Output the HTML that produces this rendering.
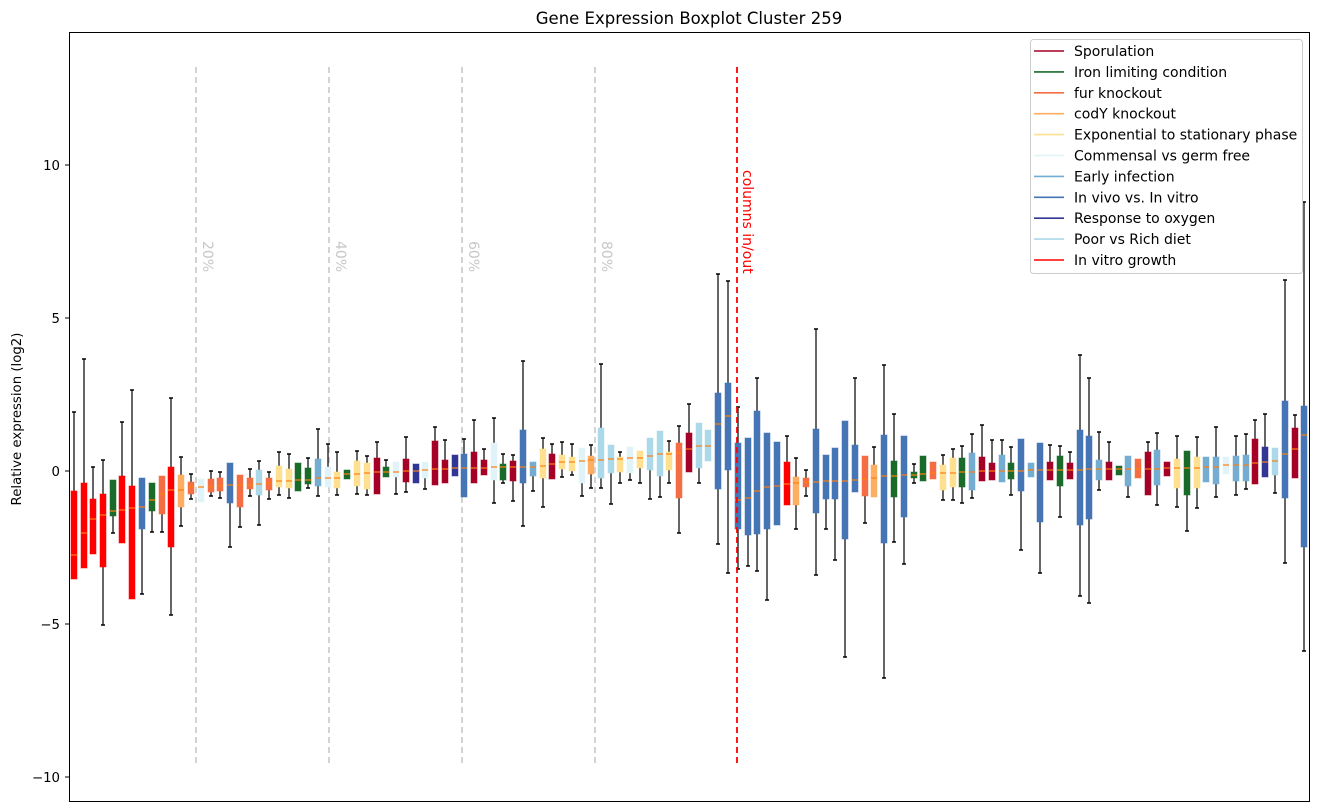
<!DOCTYPE html>
<html><head><meta charset="utf-8"><style>
html,body{margin:0;padding:0;background:#fff;}
svg{display:block;font-family:"DejaVu Sans","Liberation Sans",sans-serif;}
</style></head><body>
<svg id="s" width="1318" height="812" viewBox="0 0 1318 812" xmlns="http://www.w3.org/2000/svg">
<rect width="1318" height="812" fill="#fff"/>
<text x="689" y="24" font-size="16.5" text-anchor="middle" fill="#000">Gene Expression Boxplot Cluster 259</text>
<text transform="translate(21,419) rotate(-90)" font-size="13.3" text-anchor="middle" fill="#000">Relative expression (log2)</text>
<g font-size="13.3" text-anchor="end" fill="#000">
<text x="60" y="170">10</text>
<text x="60" y="323">5</text>
<text x="60" y="476">0</text>
<text x="60" y="629">−5</text>
<text x="60" y="782">−10</text>
</g>
<g stroke="#000" stroke-width="1">
<line x1="65" y1="165" x2="69" y2="165"/>
<line x1="65" y1="318" x2="69" y2="318"/>
<line x1="65" y1="471" x2="69" y2="471"/>
<line x1="65" y1="624" x2="69" y2="624"/>
<line x1="65" y1="777" x2="69" y2="777"/>
</g>
<g stroke="#c8c8c8" stroke-width="1.6" stroke-dasharray="6,4">
<line x1="196" y1="67" x2="196" y2="767"/>
<line x1="329" y1="67" x2="329" y2="767"/>
<line x1="462" y1="67" x2="462" y2="767"/>
<line x1="595" y1="67" x2="595" y2="767"/>
</g>
<g font-size="14" fill="#c8c8c8">
<text transform="translate(203,241) rotate(90)">20%</text>
<text transform="translate(336,241) rotate(90)">40%</text>
<text transform="translate(469,241) rotate(90)">60%</text>
<text transform="translate(602,241) rotate(90)">80%</text>
</g>
<g id="boxes"></g>
<line x1="737" y1="67" x2="737" y2="767" stroke="#ff0000" stroke-width="1.8" stroke-dasharray="6,4"/>
<text transform="translate(743,170) rotate(90)" font-size="14" fill="#ff0000">columns in/out</text>
<rect x="69.5" y="32.5" width="1240" height="769" fill="none" stroke="#000" stroke-width="1"/>
<rect x="1030.5" y="39.5" width="272" height="234" rx="3" fill="#fff" fill-opacity="0.85" stroke="#ccc"/>
<g id="leg" font-size="14" fill="#000"></g>
</svg>
<script>
var C={S:"#a50026",IR:"#1a6a2a",FUR:"#f46d43",COD:"#fdae61",EXP:"#fee090",COM:"#e0f3f8",EA:"#74add1",VIVO:"#4575b4",OX:"#313695",POOR:"#abd9e9",VT:"#ff0000"};
var D=[
[74,412,491,555,579,579,"VT"],[84,359,483,533,568,568,"VT"],[93,467,499,519,554,554,"VT"],[103,460,494,515,567,625,"VT"],
[113,480,480,511,516,533,"IR"],[122,422,476,510,543,543,"VT"],[132,390,486,508,599,599,"VT"],[142,478,478,507,529,594,"VIVO"],
[152,483,483,500,511,532,"IR"],[162,476,476,494,514,532,"FUR"],[171,398,467,490,547,615,"VT"],[181,457,475,490,507,526,"COD"],
[191,474,482,487,494,499,"FUR"],[201,479,479,487,502,502,"COM"],[211,471,479,487,492,496,"FUR"],[220,472,478,486,491,498,"FUR"],
[230,463,463,485,503,547,"VIVO"],[240,475,475,485,507,527,"FUR"],[250,469,478,485,489,496,"FUR"],[259,461,470,484,495,525,"POOR"],
[269,472,478,483,490,499,"FUR"],[279,452,466,481,487,495,"EXP"],[289,454,469,481,488,498,"EXP"],[298,463,463,480,491,491,"IR"],
[308,458,468,480,484,488,"IR"],[318,429,459,478,486,496,"EA"],[328,444,467,478,487,487,"COM"],[337,452,472,478,488,495,"EXP"],
[347,470,470,474,479,479,"IR"],[357,451,461,474,486,494,"EXP"],[367,456,463,473,489,495,"EXP"],[377,442,458,472,494,494,"S"],
[386,460,467,472,477,477,"IR"],[396,462,462,472,477,494,"COM"],[406,437,459,471,482,492,"S"],[416,464,464,471,483,483,"OX"],
[425,462,462,470,478,489,"COM"],[435,427,441,469,485,485,"S"],[445,440,460,469,483,483,"S"],[455,455,455,468,476,476,"OX"],
[464,439,454,468,497,497,"VIVO"],[474,420,452,468,483,483,"S"],[484,449,460,468,475,475,"S"],[494,418,443,467,480,503,"COM"],
[503,454,464,467,480,483,"IR"],[513,455,461,467,481,501,"S"],[523,361,430,467,483,526,"VIVO"],[533,462,462,467,476,491,"EA"],
[543,438,449,466,478,507,"EXP"],[552,444,454,464,479,479,"S"],[562,442,455,462,469,477,"EXP"],[572,444,457,462,471,475,"EXP"],
[582,448,448,461,483,496,"COM"],[591,445,456,460,474,488,"COD"],[601,364,428,460,478,488,"POOR"],[611,445,445,459,473,504,"POOR"],
[620,452,457,459,472,483,"EXP"],[630,447,447,458,473,480,"COM"],[640,451,451,458,468,483,"EXP"],[650,438,438,456,470,499,"POOR"],
[660,431,431,454,476,497,"POOR"],[669,441,452,454,470,483,"EXP"],[679,426,443,453,498,533,"FUR"],[689,404,433,449,472,472,"S"],
[699,423,423,446,468,483,"POOR"],[708,430,430,446,461,461,"POOR"],[718,274,393,424,489,544,"VIVO"],[728,281,383,416,470,573,"VIVO"],
[738,407,443,500,529,569,"VIVO"],[748,438,438,498,535,566,"VIVO"],[757,378,411,491,534,571,"VIVO"],[767,433,433,487,529,600,"VIVO"],
[777,442,442,486,525,525,"VIVO"],[787,436,462,484,505,505,"VT"],[796,458,477,483,505,529,"COD"],[806,470,478,482,487,496,"FUR"],
[816,329,429,482,513,575,"VIVO"],[826,455,455,481,499,529,"VIVO"],[835,448,448,481,499,560,"VIVO"],[845,421,421,481,539,657,"VIVO"],
[855,378,445,480,492,492,"VIVO"],[865,456,456,479,496,523,"FUR"],[874,447,465,478,497,497,"COD"],[884,365,435,476,543,678,"VIVO"],
[894,414,461,476,497,542,"IR"],[904,436,436,475,517,564,"VIVO"],[914,464,472,475,478,483,"IR"],[923,456,456,474,481,481,"IR"],
[933,462,462,473,479,479,"FUR"],[943,455,465,473,490,500,"EXP"],[953,449,458,473,487,500,"EXP"],[962,446,458,472,487,503,"IR"],
[972,434,453,472,490,498,"EA"],[982,425,457,471,481,481,"S"],[992,440,463,471,480,480,"S"],[1002,440,455,471,482,482,"EA"],
[1011,447,463,471,479,495,"IR"],[1021,439,439,471,491,550,"VIVO"],[1031,463,463,470,477,477,"EA"],[1040,443,443,470,522,573,"VIVO"],
[1050,445,462,470,480,480,"S"],[1060,446,456,470,486,517,"IR"],[1070,452,463,470,479,479,"S"],[1080,355,430,470,525,596,"VIVO"],
[1089,378,436,469,519,603,"VIVO"],[1099,432,460,469,480,490,"EA"],[1109,442,462,469,480,480,"S"],[1119,466,466,469,475,475,"IR"],
[1128,456,456,469,486,497,"EA"],[1138,459,459,469,478,478,"FUR"],[1148,442,452,469,495,495,"S"],[1157,433,450,469,485,505,"EA"],
[1167,462,462,468,476,476,"S"],[1177,436,459,468,488,507,"EXP"],[1187,451,451,468,495,531,"IR"],[1197,437,457,468,488,508,"EXP"],
[1206,457,457,467,482,482,"EA"],[1216,427,457,467,484,497,"EA"],[1226,457,457,465,474,474,"COM"],[1236,436,456,465,481,495,"EA"],
[1246,434,455,465,481,489,"EA"],[1255,420,439,463,484,484,"S"],[1265,414,447,462,477,477,"OX"],[1275,448,448,461,475,493,"POOR"],
[1285,280,401,454,498,563,"VIVO"],[1295,415,428,449,478,478,"S"],[1304,202,406,435,547,651,"VIVO"]
];
var h="";
D.forEach(function(d){
 var x=d[0],c=C[d[6]];
 if(d[1]<d[2]) h+='<line x1="'+x+'" y1="'+d[1]+'" x2="'+x+'" y2="'+d[2]+'" stroke="#000" stroke-width="1.2"/><line x1="'+(x-2)+'" y1="'+d[1]+'" x2="'+(x+2)+'" y2="'+d[1]+'" stroke="#000" stroke-width="1.5"/>';
 if(d[5]>d[4]) h+='<line x1="'+x+'" y1="'+d[4]+'" x2="'+x+'" y2="'+d[5]+'" stroke="#000" stroke-width="1.2"/><line x1="'+(x-2)+'" y1="'+d[5]+'" x2="'+(x+2)+'" y2="'+d[5]+'" stroke="#000" stroke-width="1.5"/>';
 h+='<rect x="'+(x-3)+'" y="'+d[2]+'" width="6" height="'+Math.max(1,d[4]-d[2])+'" fill="'+c+'" stroke="'+c+'" stroke-opacity="0.5" stroke-width="1"/>';
 h+='<line x1="'+(x-3)+'" y1="'+d[3]+'" x2="'+(x+3)+'" y2="'+d[3]+'" stroke="#ff7f0e" stroke-width="1.2"/>';
});
document.getElementById("boxes").innerHTML=h;
var L=[["Sporulation","S"],["Iron limiting condition","IR"],["fur knockout","FUR"],["codY knockout","COD"],["Exponential to stationary phase","EXP"],["Commensal vs germ free","COM"],["Early infection","EA"],["In vivo vs. In vitro","VIVO"],["Response to oxygen","OX"],["Poor vs Rich diet","POOR"],["In vitro growth","VT"]];
var g="";
L.forEach(function(l,i){var y=51+i*20.9;
 g+='<line x1="1034" y1="'+y+'" x2="1064" y2="'+y+'" stroke="'+C[l[1]]+'" stroke-width="1.6"/><text x="1074" y="'+(y+5)+'">'+l[0]+'</text>';});
document.getElementById("leg").innerHTML=g;
</script>
</body></html>
